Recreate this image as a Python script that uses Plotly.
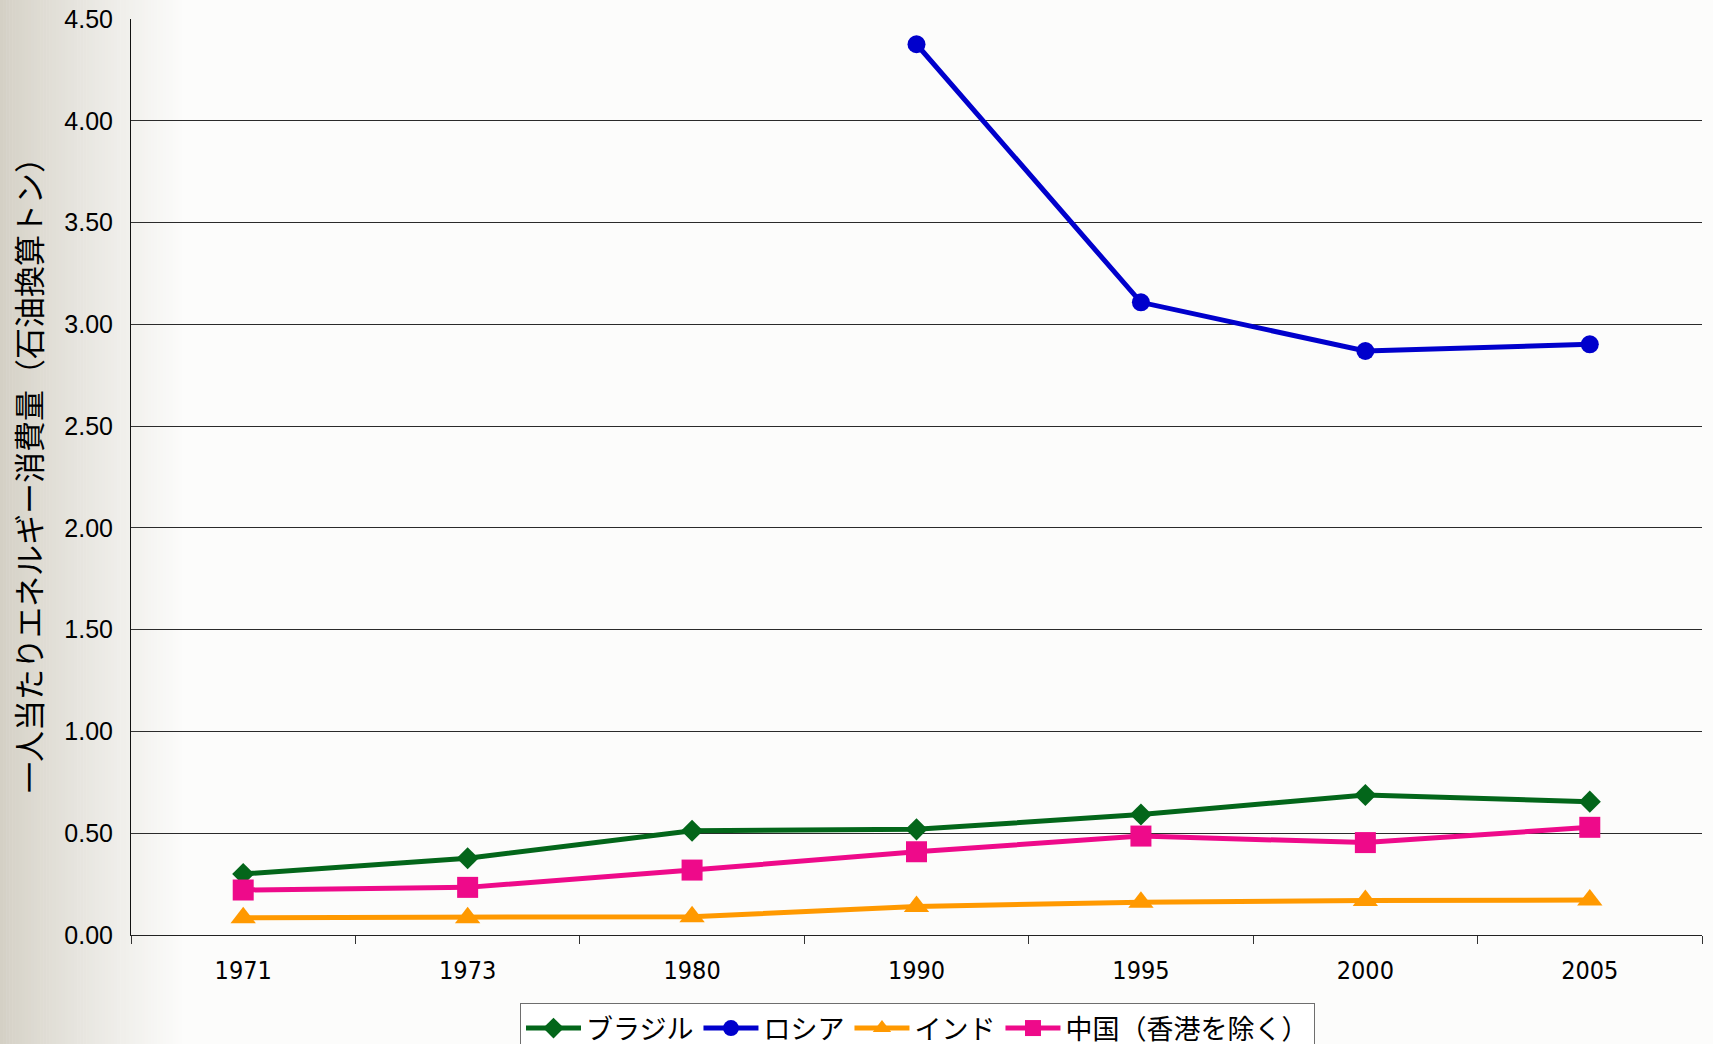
import plotly.graph_objects as go

# Per-capita primary energy consumption (tonnes of oil equivalent)
years = ["1971", "1973", "1980", "1990", "1995", "2000", "2005"]
brazil = [0.300, 0.377, 0.512, 0.519, 0.592, 0.688, 0.655]
russia = [None, None, None, 4.376, 3.108, 2.869, 2.902]
india = [0.085, 0.085, 0.090, 0.140, 0.161, 0.169, 0.172]
china = [0.221, 0.234, 0.319, 0.409, 0.486, 0.454, 0.529]

series_names = ["ブラジル", "ロシア", "インド", "中国（香港を除く）"]
series_colors = ["#03661a", "#0000cc", "#ff9900", "#ee0a8a"]
series_symbols = ["diamond", "circle", "triangle-up", "square"]
series_sizes = [17, 18, 22, 21]

y_ticks = [0, 0.5, 1.0, 1.5, 2.0, 2.5, 3.0, 3.5, 4.0, 4.5]
y_title = "一人当たりエネルギー消費量（石油換算トン）"

W, H = 1713, 1044
margin = dict(l=131, r=11, t=19, b=109)
plot_w = W - margin["l"] - margin["r"]
plot_h = H - margin["t"] - margin["b"]

fig = go.Figure()
for name, vals, color, sym, size in zip(series_names, [brazil, russia, india, china],
                                        series_colors, series_symbols, series_sizes):
    fig.add_trace(go.Scatter(
        x=years, y=vals, name=name, mode="lines+markers",
        line=dict(color=color, width=5),
        marker=dict(symbol=sym, size=size, color=color, line=dict(width=0)),
        connectgaps=False,
    ))

# Soft horizontal gradient on the left side of the page
shapes = []
n_strips = 60
grad_px = 185
c0 = (211, 207, 196)
c1 = (252, 252, 251)
for i in range(n_strips):
    x0_px = grad_px * i / n_strips
    x1_px = grad_px * (i + 1) / n_strips + 0.5
    t = (i + 0.5) / n_strips
    t = t ** 0.85
    col = tuple(round(c0[k] + (c1[k] - c0[k]) * t) for k in range(3))
    shapes.append(dict(
        type="rect", xref="paper", yref="paper", layer="below",
        x0=(x0_px - margin["l"]) / plot_w, x1=(x1_px - margin["l"]) / plot_w,
        y0=-1, y1=2, line=dict(width=0), fillcolor="rgb(%d,%d,%d)" % col,
    ))

fig.update_layout(
    width=W, height=H,
    margin=margin,
    paper_bgcolor="#fcfcfb",
    plot_bgcolor="rgba(0,0,0,0)",
    shapes=shapes,
    showlegend=True,
    legend=dict(
        orientation="h",
        xref="container", yref="container",
        x=520 / W, xanchor="left",
        y=1 - 1003 / H, yanchor="top",
        bgcolor="white", bordercolor="#6e6e6e", borderwidth=1,
        font=dict(family="Noto Sans CJK JP", size=27, color="black"),
        itemwidth=55, tracegroupgap=0,
    ),
    xaxis=dict(
        type="category", range=[-0.5, 6.5], automargin=False,
        showline=True, linecolor="#222222", linewidth=1,
        ticks="outside", ticklen=8, tickcolor="#333333", tickson="boundaries",
        showgrid=False, zeroline=False,
        tickfont=dict(family="DejaVu Sans Condensed, Liberation Sans", size=25, color="black"),
        ticklabelstandoff=13,
    ),
    yaxis=dict(
        range=[0, 4.5], tickvals=y_ticks, ticktext=["%.2f" % v for v in y_ticks],
        automargin=False,
        showline=True, linecolor="#111111", linewidth=1,
        ticks="inside", ticklen=9, tickcolor="#333333",
        showgrid=True, gridcolor="#2a2a2a", gridwidth=1, zeroline=False,
        tickfont=dict(family="Liberation Sans", size=25, color="black"),
        ticklabelstandoff=12,
    ),
    annotations=[dict(
        text=y_title, textangle=-90,
        xref="paper", yref="paper",
        x=(27 - margin["l"]) / plot_w, y=0.5 + 9 / plot_h,
        xanchor="center", yanchor="middle", showarrow=False,
        font=dict(family="Noto Sans CJK JP", size=31, color="black"),
    )],
)

fig.write_html("out.html")
